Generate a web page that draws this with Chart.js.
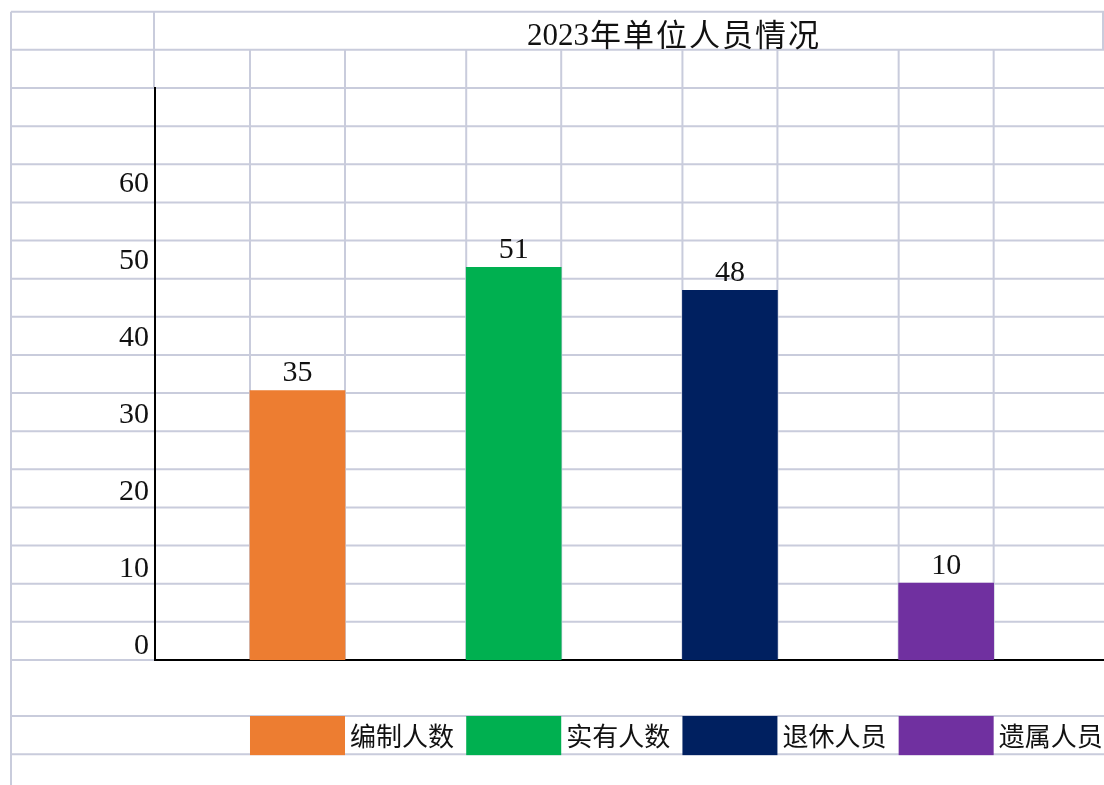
<!DOCTYPE html>
<html>
<head>
<meta charset="utf-8">
<script src="https://cdn.jsdelivr.net/npm/chart.js@4"></script>
<style>
  body { margin: 0; background: #fff; }
  #wrap { width: 1104px; height: 785px; }
</style>
</head>
<body>
<div id="wrap"><canvas id="chart1" width="1104" height="785"></canvas></div>
<script>
// datos del grafico
const titleYear = '2023';
const titleText = '年单位人员情况';
const categories = ['编制人数', '实有人数', '退休人员', '遗属人员'];
const values = [35, 51, 48, 10];
const barColors = ['#ED7D31', '#00B050', '#002060', '#7030A0'];
const yTicks = [0, 10, 20, 30, 40, 50, 60];

const lineColor = '#c9ccdc';
const numFont = "'Liberation Serif', 'Noto Sans CJK SC', serif";
const cjkFont = "'Noto Sans CJK SC', sans-serif";

// fondo tipo hoja de calculo
const sheetGrid = {
  id: 'sheetGrid',
  beforeDraw(chart) {
    const { ctx, chartArea: a } = chart;
    const rowH = (a.bottom - a.top) / 15;
    const rows = [a.top - 2 * rowH, a.top - rowH];
    for (let k = 0; k <= 15; k++) rows.push(a.top + k * rowH);
    rows.push(a.bottom + 56, a.bottom + 56 + rowH);

    ctx.save();
    ctx.fillStyle = '#fff';
    ctx.fillRect(0, 0, chart.width, chart.height);
    ctx.strokeStyle = lineColor;
    ctx.lineWidth = 2;
    ctx.beginPath();
    rows.forEach(y => { ctx.moveTo(11, y); ctx.lineTo(chart.width, y); });
    ctx.moveTo(11, rows[0]); ctx.lineTo(11, chart.height);
    ctx.moveTo(a.left - 1, rows[0]); ctx.lineTo(a.left - 1, a.top);
    ctx.moveTo(chart.width - 1, rows[0]); ctx.lineTo(chart.width - 1, rows[1]);
    chart.getDatasetMeta(0).data.forEach(bar => {
      [bar.x - bar.width / 2, bar.x + bar.width / 2].forEach(x => {
        ctx.moveTo(x, rows[1]);
        ctx.lineTo(x, a.bottom);
      });
    });
    ctx.stroke();
    ctx.restore();
  }
};

// titulo, etiquetas y leyenda
const extras = {
  id: 'extras',
  afterDatasetsDraw(chart) {
    const { ctx } = chart;
    const meta = chart.getDatasetMeta(0);
    ctx.save();
    ctx.fillStyle = '#111';
    ctx.font = '30px ' + numFont;
    ctx.textAlign = 'center';
    ctx.textBaseline = 'bottom';
    meta.data.forEach((bar, i) => {
      ctx.fillText(String(values[i]), bar.x, bar.y - 2);
    });
    ctx.restore();
  },
  afterDraw(chart) {
    const { ctx, chartArea: a } = chart;
    const rowH = (a.bottom - a.top) / 15;
    const meta = chart.getDatasetMeta(0);
    ctx.save();
    // titulo
    ctx.fillStyle = '#111';
    ctx.textAlign = 'left';
    ctx.textBaseline = 'alphabetic';
    ctx.font = '31px ' + numFont;
    ctx.fillText(titleYear, 527, 45);
    const yw = ctx.measureText(titleYear).width;
    ctx.font = '31px ' + cjkFont;
    ctx.letterSpacing = '2px';
    ctx.fillText(titleText, 527 + yw + 1, 46);
    ctx.letterSpacing = '0px';
    // leyenda
    const ly = a.bottom + 56;
    ctx.font = '26px ' + cjkFont;
    ctx.textBaseline = 'middle';
    meta.data.forEach((bar, i) => {
      const x0 = bar.x - bar.width / 2;
      ctx.fillStyle = barColors[i];
      ctx.fillRect(x0, ly, bar.width, rowH + 1);
      ctx.fillStyle = '#111';
      ctx.fillText(categories[i], x0 + bar.width + 5, ly + rowH / 2 + 1);
    });
    ctx.restore();
  }
};

new Chart(document.getElementById('chart1'), {
  type: 'bar',
  data: {
    labels: categories,
    datasets: [{
      label: titleYear + titleText,
      data: values.map((v, i) => ({ x: i, y: v })),
      backgroundColor: barColors,
      borderWidth: 0,
      barThickness: 95
    }]
  },
  options: {
    responsive: false,
    animation: false,
    devicePixelRatio: 1,
    layout: { padding: { top: 88, bottom: 125, left: 0, right: 0 } },
    plugins: {
      legend: { display: false },
      title: { display: false },
      tooltip: { enabled: false }
    },
    scales: {
      x: {
        type: 'linear',
        offset: false,
        min: -0.659,
        max: 3.73,
        z: 1,
        ticks: { display: false },
        grid: { display: false, drawTicks: false, offset: false },
        border: { display: true, color: '#000', width: 2 },
        afterFit: s => { s.height = 0; }
      },
      y: {
        min: 0,
        max: 74.29,
        z: 1,
        afterFit: s => { s.width = 155; },
        afterBuildTicks: s => { s.ticks = yTicks.map(v => ({ value: v })); },
        ticks: {
          padding: 6,
          labelOffset: -14,
          color: '#111',
          font: { family: numFont, size: 30 }
        },
        grid: { display: false, drawTicks: false },
        border: { display: true, color: '#000', width: 2 }
      }
    }
  },
  plugins: [sheetGrid, extras]
});
</script>
</body>
</html>
